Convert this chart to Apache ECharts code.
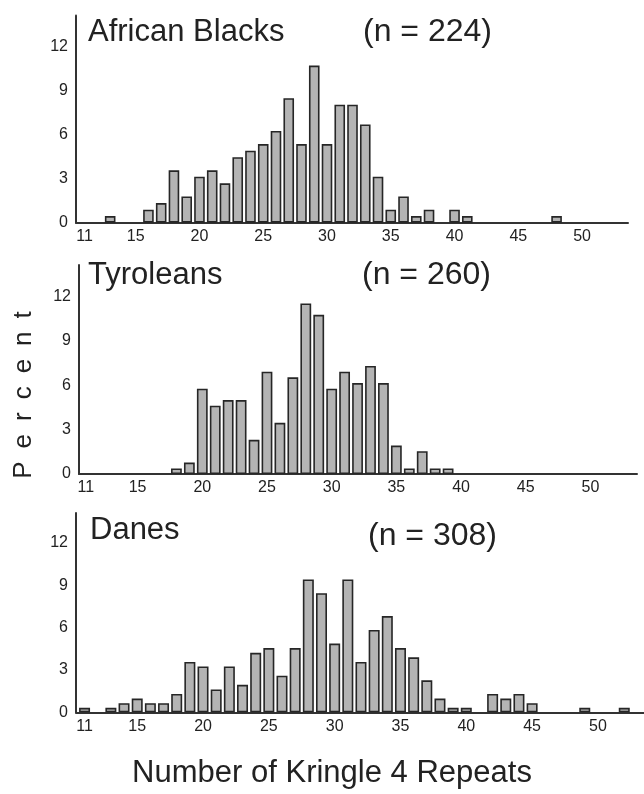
<!DOCTYPE html>
<html>
<head>
<meta charset="utf-8">
<script src="https://cdn.jsdelivr.net/npm/echarts@6/dist/echarts.min.js"></script>
<style>
html,body{margin:0;padding:0;background:#fff;}
#chart{width:644px;height:794px;}
</style>
</head>
<body>
<div id="chart"></div>
<script>
// ---- data (percent of alleles by number of Kringle 4 repeats) ----
const repeatsAfrican = [13,16,17,18,19,20,21,22,23,24,25,26,27,28,29,30,31,32,33,34,35,36,37,38,40,41,48];
const percentAfrican = [0.45,0.89,1.34,3.57,1.79,3.13,3.57,2.68,4.46,4.91,5.36,6.25,8.48,5.36,10.71,5.36,8.04,8.04,6.70,3.13,0.89,1.79,0.45,0.89,0.89,0.45,0.45];

const repeatsTyrol = [18,19,20,21,22,23,24,25,26,27,28,29,30,31,32,33,34,35,36,37,38,39];
const percentTyrol = [0.38,0.77,5.77,4.62,5.00,5.00,2.31,6.92,3.46,6.54,11.54,10.77,5.77,6.92,6.15,7.31,6.15,1.92,0.38,1.54,0.38,0.38];

const repeatsDanes = [11,13,14,15,16,17,18,19,20,21,22,23,24,25,26,27,28,29,30,31,32,33,34,35,36,37,38,39,40,42,43,44,45,49,52];
const percentDanes = [0.32,0.32,0.65,0.97,0.65,0.65,1.30,3.57,3.25,1.62,3.25,1.95,4.22,4.55,2.60,4.55,9.42,8.44,4.87,9.42,3.57,5.84,6.82,4.55,3.90,2.27,0.97,0.32,0.32,1.30,0.97,1.30,0.65,0.32,0.32];

const panelTitles = ['African Blacks','Tyroleans','Danes'];
const panelN = ['(n = 224)','(n = 260)','(n = 308)'];
const xTickLabels = [11,15,20,25,30,35,40,45,50];
const yTickLabels = [0,3,6,9,12];
const xAxisTitle = 'Number of Kringle 4 Repeats';
const yAxisTitle = 'P\u2002e\u2002r\u2002c\u2002e\u2002n\u2002t';

// ---- layout ----
const FONT = '"Liberation Sans", Arial, Helvetica, sans-serif';
const TXT = '#222222';
const grids = [
  {left:76, top:15.5, width:552, height:207.2},
  {left:79, top:265, width:558, height:209},
  {left:76, top:513, width:568, height:199.3}
];
const xRanges = [[10.32,53.6],[10.47,53.6],[10.35,53.5]];
const yMax = [14.12,14.14,14.13];
const barW = [10.6,10.8,11];
const seriesX = [repeatsAfrican, repeatsTyrol, repeatsDanes];
const seriesY = [percentAfrican, percentTyrol, percentDanes];

const option = {
  animation:false,
  backgroundColor:'#ffffff',
  grid: grids.map(g => Object.assign({containLabel:false}, g)),
  xAxis: grids.map((g,i) => ({
    type:'value', gridIndex:i, min:xRanges[i][0], max:xRanges[i][1],
    axisLine:{show:true, onZero:false, lineStyle:{color:'#333333', width:2}},
    axisTick:{show:false},
    splitLine:{show:false},
    axisLabel:{customValues:xTickLabels, color:TXT, fontSize:16, fontFamily:FONT, margin:6}
  })),
  yAxis: grids.map((g,i) => ({
    type:'value', gridIndex:i, min:0, max:yMax[i],
    axisLine:{show:true, lineStyle:{color:'#333333', width:2}},
    axisTick:{show:false},
    splitLine:{show:false},
    axisLabel:{customValues:yTickLabels, color:TXT, fontSize:16, fontFamily:FONT, margin:8}
  })),
  series: grids.map((g,i) => ({
    type:'bar', xAxisIndex:i, yAxisIndex:i,
    barWidth:barW[i],
    data: seriesX[i].map((x,k) => [x, seriesY[i][k]]),
    itemStyle:{color:'#b4b4b4', borderColor:'#262626', borderWidth:1.6}
  })),
  graphic: [
    {type:'text', left:88, top:17, style:{text:panelTitles[0], font:'31px '+FONT, fill:TXT}},
    {type:'text', left:363, top:16, style:{text:panelN[0], font:'32px '+FONT, fill:TXT}},
    {type:'text', left:88, top:260, style:{text:panelTitles[1], font:'31px '+FONT, fill:TXT}},
    {type:'text', left:362, top:259, style:{text:panelN[1], font:'32px '+FONT, fill:TXT}},
    {type:'text', left:90, top:515, style:{text:panelTitles[2], font:'31px '+FONT, fill:TXT}},
    {type:'text', left:368, top:520, style:{text:panelN[2], font:'32px '+FONT, fill:TXT}},
    {type:'text', x:332, y:773, style:{text:xAxisTitle, font:'31px '+FONT, fill:TXT, textAlign:'center', textVerticalAlign:'middle'}},
    {type:'text', x:24, y:395, rotation:Math.PI/2, style:{text:yAxisTitle, font:'26px '+FONT, fill:TXT, textAlign:'center', textVerticalAlign:'middle'}}
  ]
};
const chart = echarts.init(document.getElementById('chart'), null, {renderer:'canvas'});
chart.setOption(option);
</script>
</body>
</html>
